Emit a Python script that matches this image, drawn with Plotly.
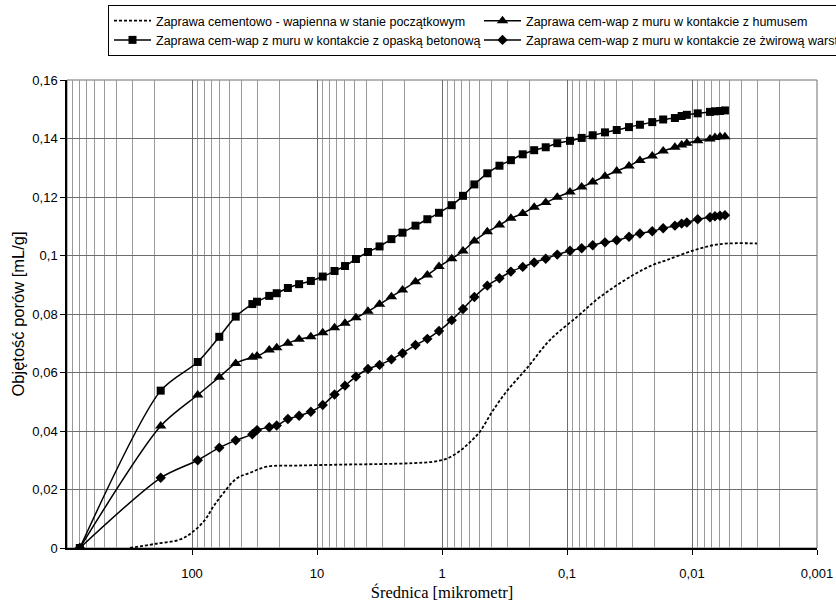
import plotly.graph_objects as go

# Diameters (micrometres) of the measured points (shared by the three marked series)
diam = [790, 178, 90, 60.5, 44.7, 32.9, 30.2, 24.1, 21.0, 17.1, 13.9, 11.2, 9.0, 7.24,
        5.97, 4.88, 3.91, 3.16, 2.54, 2.07, 1.63, 1.31, 1.057, 0.836, 0.679, 0.551,
        0.434, 0.347, 0.281, 0.226, 0.183, 0.148, 0.1196, 0.0946, 0.0763, 0.0623,
        0.0497, 0.040, 0.0319, 0.0261, 0.0208, 0.0170, 0.0137, 0.0121, 0.0110,
        0.0090, 0.00718, 0.00655, 0.00597, 0.00545]

# Zaprawa cem-wap z muru w kontakcie z opaską betonową (squares)
beton = [0, 0.0538, 0.0636, 0.0722, 0.0791, 0.0834, 0.0842, 0.0862, 0.0871, 0.0889,
         0.0902, 0.0913, 0.0928, 0.0947, 0.0964, 0.0988, 0.1012, 0.1031, 0.1056, 0.1078,
         0.1102, 0.1124, 0.1146, 0.1172, 0.1204, 0.1243, 0.1281, 0.1307, 0.1326, 0.1346,
         0.1360, 0.1370, 0.1384, 0.1392, 0.1402, 0.1411, 0.1421, 0.1429, 0.1439, 0.1447,
         0.1456, 0.1465, 0.1470, 0.1477, 0.1481, 0.1486, 0.1491, 0.1493, 0.1494, 0.1496]

# Zaprawa cem-wap z muru w kontakcie z humusem (triangles)
humus = [0, 0.0417, 0.0523, 0.0584, 0.0631, 0.0652, 0.0656, 0.0677, 0.0685, 0.0700,
         0.0714, 0.0722, 0.0736, 0.0753, 0.0768, 0.0787, 0.0809, 0.0833, 0.0859, 0.0882,
         0.0910, 0.0933, 0.0962, 0.0989, 0.1015, 0.1050, 0.1081, 0.1104, 0.1127, 0.1144,
         0.1165, 0.1181, 0.1199, 0.1217, 0.1234, 0.1251, 0.1271, 0.1289, 0.1306, 0.1325,
         0.1340, 0.1357, 0.1370, 0.1378, 0.1384, 0.1392, 0.1398, 0.1403, 0.1406, 0.1406]

# Zaprawa cem-wap z muru w kontakcie ze żwirową warstwą (diamonds)
zwir = [0, 0.0240, 0.0300, 0.0343, 0.0368, 0.0389, 0.0403, 0.0413, 0.0419, 0.0441,
        0.0452, 0.0466, 0.0489, 0.0525, 0.0555, 0.0586, 0.0612, 0.0626, 0.0645, 0.0666,
        0.0694, 0.0715, 0.0742, 0.0779, 0.0817, 0.0858, 0.0897, 0.0922, 0.0945, 0.0961,
        0.0976, 0.0989, 0.1003, 0.1016, 0.1025, 0.1035, 0.1045, 0.1052, 0.1064, 0.1075,
        0.1083, 0.1093, 0.1102, 0.1109, 0.1113, 0.1124, 0.1131, 0.1134, 0.1136, 0.1138]

# Zaprawa cementowo - wapienna w stanie początkowym (dashed, no markers)
diam_init = [313, 198, 125, 98, 78.7, 67.9, 56.5, 43.9, 34.4, 25.3, 13.7, 6.55, 3.13,
             1.71, 1.18, 0.912, 0.718, 0.597, 0.497, 0.398, 0.302, 0.209, 0.137, 0.0817,
             0.0545, 0.0296, 0.0205, 0.0158, 0.00982, 0.00597, 0.00302]
init = [0, 0.0014, 0.0029, 0.0056, 0.0096, 0.0140, 0.0186, 0.0238, 0.0257, 0.0278,
        0.0282, 0.0285, 0.0287, 0.0290, 0.0295, 0.0306, 0.0332, 0.0362, 0.0398, 0.0465,
        0.0537, 0.0615, 0.0711, 0.0793, 0.0858, 0.0933, 0.0968, 0.0985, 0.1017, 0.1039,
        0.1041]

names = ["Zaprawa cementowo - wapienna w stanie początkowym",
         "Zaprawa cem-wap z muru w kontakcie z humusem",
         "Zaprawa cem-wap z muru w kontakcie z opaską betonową",
         "Zaprawa cem-wap z muru w kontakcie ze żwirową warstwą"]

x_tickvals = [100, 10, 1, 0.1, 0.01, 0.001]
x_ticktext = ["100", "10", "1", "0,1", "0,01", "0,001"]
y_tickvals = [0, 0.02, 0.04, 0.06, 0.08, 0.1, 0.12, 0.14, 0.16]
y_ticktext = ["0", "0,02", "0,04", "0,06", "0,08", "0,1", "0,12", "0,14", "0,16"]

minor_vals = [m * 10 ** k for k in range(-3, 3) for m in range(2, 10)]

fig = go.Figure()
fig.add_trace(go.Scatter(x=diam_init, y=init, mode="lines", name=names[0],
                         line=dict(color="black", width=1.8, dash="3px,2px", shape="spline", smoothing=1)))
fig.add_trace(go.Scatter(x=diam, y=humus, mode="lines+markers", name=names[1],
                         line=dict(color="black", width=1.5, shape="spline", smoothing=0.8),
                         marker=dict(symbol="triangle-up", size=10, color="black")))
fig.add_trace(go.Scatter(x=diam, y=beton, mode="lines+markers", name=names[2],
                         line=dict(color="black", width=1.5, shape="spline", smoothing=0.8),
                         marker=dict(symbol="square", size=8, color="black")))
fig.add_trace(go.Scatter(x=diam, y=zwir, mode="lines+markers", name=names[3],
                         line=dict(color="black", width=1.5, shape="spline", smoothing=0.8),
                         marker=dict(symbol="diamond", size=8, color="black")))

fig.update_layout(
    width=836, height=602,
    margin=dict(l=67, r=19, t=80, b=54, autoexpand=False),
    paper_bgcolor="white", plot_bgcolor="white",
    font=dict(family="Liberation Sans, Arial, sans-serif", size=13, color="black"),
    showlegend=True,
    legend=dict(orientation="h", xref="container", x=108 / 836, xanchor="left",
                yref="container", y=1 - 5 / 602, yanchor="top",
                entrywidth=318, entrywidthmode="pixels",
                font=dict(family="Liberation Sans, Arial, sans-serif", size=12.5),
                bordercolor="black", borderwidth=1, bgcolor="white",
                traceorder="normal", itemwidth=37),
)
fig.update_xaxes(
    type="log", range=[3, -3],
    tickvals=x_tickvals, ticktext=x_ticktext,
    ticks="outside", ticklen=5, tickcolor="black",
    ticklabelstandoff=8, automargin=False,
    showline=True, linecolor="black", linewidth=1.5,
    showgrid=True, gridcolor="#6e6e6e", gridwidth=1,
    minor=dict(tickvals=minor_vals, showgrid=True, gridcolor="#9a9a9a", gridwidth=1, ticks=""),
    zeroline=False,
    title=dict(text="Średnica [mikrometr]", font=dict(family="Liberation Serif, Times New Roman, serif", size=16.5),
               standoff=8),
)
fig.update_yaxes(
    range=[0, 0.16],
    tickvals=y_tickvals, ticktext=y_ticktext,
    ticks="outside", ticklen=5, tickcolor="black", automargin=False,
    showline=True, linecolor="black", linewidth=1.5,
    showgrid=True, gridcolor="#6e6e6e", gridwidth=1,
    zeroline=False,
    title=dict(text="Objętość porów [mL/g]", font=dict(size=16.5), standoff=4),
)
# frame on top/right
fig.add_shape(type="rect", xref="paper", yref="paper", x0=0, y0=0, x1=1, y1=1,
              line=dict(color="#6e6e6e", width=1), layer="below")

fig.write_html("out.html", config={"displayModeBar": False},
               post_script="document.body.style.margin='0';document.body.style.overflow='hidden';")
